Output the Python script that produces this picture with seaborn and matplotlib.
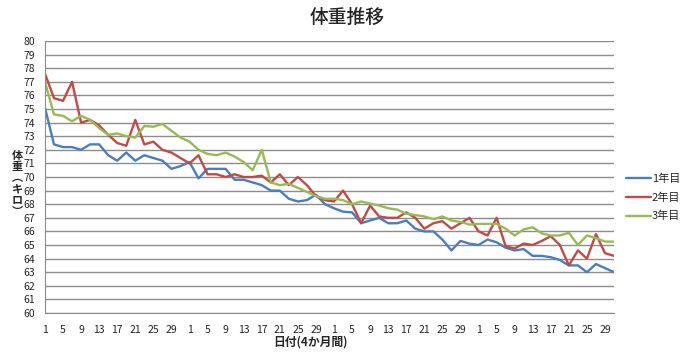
import matplotlib
matplotlib.use("Agg")
import matplotlib.pyplot as plt
import seaborn as sns
import pandas as pd

# ---- data ----
month_days = [1, 3, 5, 7, 9, 11, 13, 15, 17, 19, 21, 23, 25, 27, 29, 31]
days = month_days * 4

year1 = [75.1, 72.4, 72.2, 72.2, 72.0, 72.4, 72.4, 71.6, 71.2, 71.8, 71.2, 71.6, 71.4, 71.2, 70.6, 70.8,
         71.1, 69.9, 70.6, 70.6, 70.6, 69.8, 69.8, 69.6, 69.4, 69.0, 69.0, 68.4, 68.2, 68.3, 68.7, 68.0,
         67.7, 67.45, 67.4, 66.6, 66.8, 67.0, 66.6, 66.6, 66.8, 66.2, 66.0, 66.0, 65.4, 64.6, 65.3, 65.1,
         65.0, 65.4, 65.2, 64.8, 64.6, 64.7, 64.2, 64.2, 64.1, 63.9, 63.5, 63.5, 63.0, 63.6, 63.3, 63.0]
year2 = [77.6, 75.8, 75.6, 77.0, 74.0, 74.2, 73.8, 73.1, 72.5, 72.3, 74.2, 72.4, 72.6, 72.0, 71.8, 71.4,
         71.0, 71.6, 70.2, 70.2, 70.0, 70.2, 70.0, 70.0, 70.1, 69.6, 70.2, 69.4, 70.0, 69.4, 68.6, 68.3,
         68.2, 69.0, 68.0, 66.6, 67.9, 67.1, 67.0, 67.0, 67.4, 67.0, 66.2, 66.6, 66.75, 66.2, 66.6, 67.0,
         66.0, 65.7, 67.0, 64.9, 64.75, 65.1, 65.0, 65.3, 65.65, 65.0, 63.5, 64.6, 64.0, 65.8, 64.4, 64.2]
year3 = [77.0, 74.6, 74.5, 74.1, 74.5, 74.2, 73.6, 73.1, 73.2, 73.0, 72.9, 73.75, 73.7, 73.9, 73.4, 72.9,
         72.6, 72.0, 71.7, 71.6, 71.8, 71.5, 71.1, 70.5, 72.0, 69.6, 69.4, 69.5, 69.2, 68.9, 68.6, 68.4,
         68.4, 68.3, 68.0, 68.2, 68.05, 67.9, 67.7, 67.6, 67.3, 67.2, 67.1, 66.9, 67.1, 66.8, 66.7, 66.5,
         66.55, 66.55, 66.55, 66.2, 65.7, 66.15, 66.3, 65.85, 65.7, 65.7, 65.9, 65.0, 65.7, 65.5, 65.25, 65.25]

series_names = ["1年目", "2年目", "3年目"]
series_values = [year1, year2, year3]
colors = ["#4A7EBB", "#BE4B48", "#98B954"]

title = "体重推移"
xlabel = "日付(4か月間)"
ylabel = "体\n重\n︵\nキ\nロ\n︶"

# ---- build long-form table ----
rows = []
for name, vals in zip(series_names, series_values):
    for pos, (d, v) in enumerate(zip(days, vals)):
        rows.append({"pos": pos, "day": d, "series": name, "weight": v})
df = pd.DataFrame(rows)

sns.set_style("white")
plt.rcParams["font.family"] = ["Noto Sans CJK JP", "DejaVu Sans"]

fig = plt.figure(figsize=(6.95, 3.6), dpi=100)
ax = fig.add_axes([0.0647, 0.1306, 0.8188, 0.7554])

sns.lineplot(data=df, x="pos", y="weight", hue="series", palette=colors,
             linewidth=1.7, ax=ax, legend=True)

ax.set_xlim(0, len(days) - 1)
ax.set_ylim(60, 80)
ax.set_yticks(range(60, 81))
ax.set_yticklabels([str(v) for v in range(60, 81)], fontsize=7.5, color="#222222")
ax.set_xticks(range(0, len(days), 2))
ax.set_xticklabels([str(d) for d in days[::2]], fontsize=7.5, color="#222222")
ax.tick_params(axis="both", length=0, pad=7)
ax.tick_params(axis="x", pad=9)

ax.yaxis.grid(True, color="#8c8c8c", linewidth=1.0)
ax.xaxis.grid(False)
for side in ["top", "right"]:
    ax.spines[side].set_visible(False)
ax.spines["left"].set_color("#8c8c8c")
ax.spines["bottom"].set_color("#8c8c8c")
ax.set_axisbelow(True)

ax.set_xlabel("")
ax.set_ylabel("")
fig.text(0.446, 0.05, xlabel, ha="center", va="center", fontsize=8.5, fontweight="bold")
fig.text(0.025, 0.49, ylabel, ha="center", va="center", fontsize=8, fontweight="bold",
         linespacing=0.82)
fig.text(0.5, 0.952, title, ha="center", va="center", fontsize=13.5, fontweight="medium")

leg = ax.legend(loc="upper left", bbox_to_anchor=(0.895, 0.53), bbox_transform=fig.transFigure,
                frameon=False, fontsize=8, handlelength=2.2, handletextpad=0.1,
                labelspacing=0.75, borderaxespad=0)

fig.savefig("out.png", dpi=100)
